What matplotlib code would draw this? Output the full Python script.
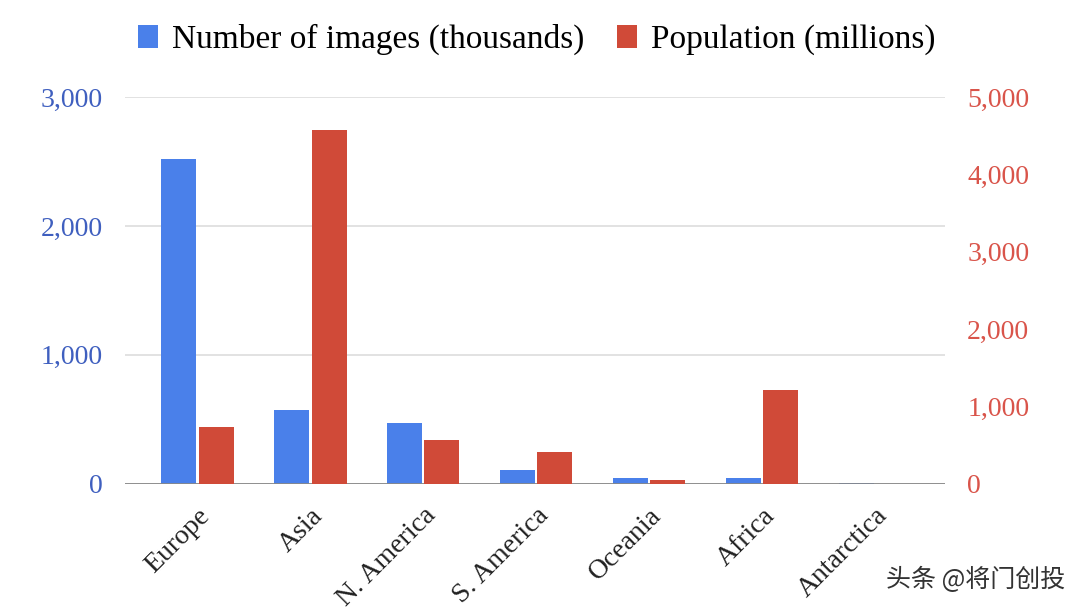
import numpy as np
import matplotlib.pyplot as plt
from matplotlib.ticker import FuncFormatter

regions = ["Europe", "Asia", "N. America", "S. America", "Oceania", "Africa", "Antarctica"]
images_k = [2520, 575, 475, 110, 47, 47, 3]
population_m = [735, 4575, 570, 410, 45, 1215, 0]

blue = "#4a80ea"
red = "#d04a38"

plt.rcParams['font.family'] = ['Liberation Serif', 'DejaVu Serif']

fig = plt.figure(figsize=(10.8, 6.14), dpi=100)
ax = fig.add_axes([0.116, 0.212, 0.759, 0.63])
ax2 = ax.twinx()

x = np.arange(len(regions))
w = 0.31
b1 = ax.bar(x - w / 2 - 0.01, images_k, w, color=blue, label="Number of images (thousands)")
b2 = ax2.bar(x + w / 2 + 0.01, population_m, w, color=red, label="Population (millions)")

ax.set_ylim(0, 3000)
ax2.set_ylim(0, 5000)
ax.set_yticks([0, 1000, 2000, 3000])
ax2.set_yticks([0, 1000, 2000, 3000, 4000, 5000])
fmt = FuncFormatter(lambda v, p: f"{int(v):,}")
ax.yaxis.set_major_formatter(fmt)
ax2.yaxis.set_major_formatter(fmt)
ax.set_xlim(-0.64, 6.62)

ax.grid(axis='y', color='#dddddd', linewidth=1.2)
ax.set_axisbelow(True)
for a in (ax, ax2):
    for s in ['top', 'right', 'left', 'bottom']:
        a.spines[s].set_visible(False)
ax.axhline(0, color='#888888', linewidth=2, zorder=3)

ax.tick_params(axis='y', length=0, labelsize=20, labelcolor='#3f5fbf', pad=16)
ax2.tick_params(axis='y', length=0, labelsize=20, labelcolor='#d9544a', pad=16)
ax.set_xticks(x)
ax.set_xticklabels(regions, rotation=45, ha='right', rotation_mode='anchor', fontsize=20, color='#222222')
ax.tick_params(axis='x', length=0, pad=14)

fig.legend(handles=[b1, b2], loc='upper center', bbox_to_anchor=(0.497, 1.01), ncol=2,
           frameon=False, fontsize=24, handlelength=0.6, handleheight=0.7,
           handletextpad=0.4, columnspacing=1.0)

fig.text(0.986, 0.035, "头条 @将门创投", ha='right', va='bottom', fontsize=18,
         color='#333333', family=['Noto Sans CJK SC', 'DejaVu Sans'])

fig.savefig("out.png", dpi=100, facecolor='white')
